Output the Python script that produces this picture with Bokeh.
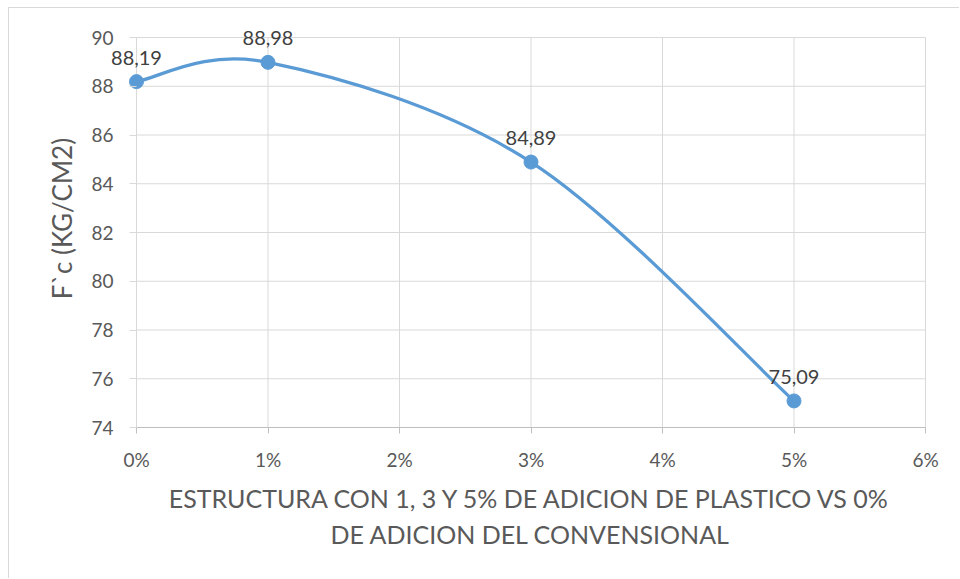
from bokeh.plotting import figure
from bokeh.models import Range1d, FixedTicker, NumeralTickFormatter, ColumnDataSource
from bokeh.core.properties import value
from bokeh.embed import file_html
from bokeh.resources import INLINE

# ---- data ----
adicion = [0.00, 0.01, 0.03, 0.05]          # x values (fraction, shown as %)
fc = [88.19, 88.98, 84.89, 75.09]            # F`c values (kg/cm2)
etiquetas = ["88,19", "88,98", "84,89", "75,09"]
x_ticks = [0.00, 0.01, 0.02, 0.03, 0.04, 0.05, 0.06]
y_ticks = [74, 76, 78, 80, 82, 84, 86, 88, 90]

FONT = "Lato"
GRID = "#d9d9d9"
TXT = "#595959"
BLUE = "#5b9bd5"

# frame is a little larger than the 0-6% / 74-90 plot area so that the data
# labels and markers next to the edges are not clipped
PX_X = 789 / (x_ticks[-1] - x_ticks[0])
PX_Y = 390 / (y_ticks[-1] - y_ticks[0])
x_start = x_ticks[0] - 36 / PX_X
x_end = x_ticks[-1] + 35 / PX_X
y_end = y_ticks[-1] + 28 / PX_Y

p = figure(width=951, height=571, output_backend="svg", toolbar_location=None,
           x_range=Range1d(x_start, x_end), y_range=Range1d(y_ticks[0], y_end),
           min_border_left=91, min_border_right=0, min_border_top=1, min_border_bottom=152)
p.styles = {"margin-left": "8px", "margin-top": "7px",
            "border-top": "1px solid #d9d9d9", "border-left": "1px solid #d9d9d9"}
p.outline_line_color = None
p.background_fill_color = "white"
p.border_fill_color = "white"
p.xgrid.visible = False
p.ygrid.visible = False

# grid lines limited to the plot area
p.segment(x0=x_ticks, y0=[y_ticks[0]] * len(x_ticks), x1=x_ticks, y1=[y_ticks[-1]] * len(x_ticks),
          line_color=GRID, line_width=1)
p.segment(x0=[x_ticks[0]] * len(y_ticks), y0=y_ticks, x1=[x_ticks[-1]] * len(y_ticks), y1=y_ticks,
          line_color=GRID, line_width=1)

# axes
p.xaxis.ticker = FixedTicker(ticks=x_ticks)
p.xaxis.formatter = NumeralTickFormatter(format="0%")
p.xaxis.bounds = (x_ticks[0], x_ticks[-1])
p.yaxis.ticker = FixedTicker(ticks=y_ticks)
for ax in (p.xaxis, p.yaxis):
    ax.minor_tick_line_color = None
    ax.major_label_text_font = FONT
    ax.major_label_text_font_size = "19px"
    ax.major_label_text_color = TXT
    ax.axis_label_text_font = FONT
    ax.axis_label_text_font_style = "normal"
    ax.axis_label_text_color = TXT
p.xaxis.axis_line_color = "#bfbfbf"
p.xaxis.major_tick_line_color = "#bfbfbf"
p.xaxis.major_tick_in = 0
p.xaxis.major_tick_out = 6
p.xaxis.major_label_standoff = 14
# y axis sits at the (wider) frame edge; its ticks are drawn as stubs just left of 0%
p.yaxis.axis_line_color = None
p.yaxis.major_tick_line_color = GRID
p.yaxis.major_tick_out = -29
p.yaxis.major_tick_in = 36
p.yaxis.major_label_standoff = -13

p.yaxis.axis_label = "F`c (KG/CM2)"
p.yaxis.axis_label_text_font_size = "26px"
p.yaxis.axis_label_standoff = 10

p.xaxis.axis_label = ("ESTRUCTURA CON 1, 3 Y 5% DE ADICION DE PLASTICO VS 0%\n"
                      "DE ADICION DEL CONVENSIONAL")
p.xaxis.axis_label_text_font_size = "25px"
p.xaxis.axis_label_text_line_height = 1.23
p.xaxis.axis_label_standoff = 9
p.xaxis.axis_label_text_align = "center"

# smoothed line (Catmull-Rom -> cubic Bezier control points derived from the data)
n = len(adicion)
x0, y0, x1, y1, cx0, cy0, cx1, cy1 = [], [], [], [], [], [], [], []
for i in range(n - 1):
    xa, ya = adicion[i], fc[i]
    xb, yb = adicion[i + 1], fc[i + 1]
    xp, yp = adicion[max(i - 1, 0)], fc[max(i - 1, 0)]
    xn, yn = adicion[min(i + 2, n - 1)], fc[min(i + 2, n - 1)]
    x0.append(xa); y0.append(ya); x1.append(xb); y1.append(yb)
    cx0.append(xa + (xb - xp) / 6.0); cy0.append(ya + (yb - yp) / 6.0)
    cx1.append(xb - (xn - xa) / 6.0); cy1.append(yb - (yn - ya) / 6.0)
p.bezier(x0=x0, y0=y0, x1=x1, y1=y1, cx0=cx0, cy0=cy0, cx1=cx1, cy1=cy1,
         line_color=BLUE, line_width=3.25)

src = ColumnDataSource(data=dict(x=adicion, y=fc, lab=etiquetas))
p.scatter("x", "y", source=src, size=14, fill_color=BLUE, line_color=BLUE)
p.text("x", "y", text="lab", source=src, text_align="center",
       text_baseline="alphabetic", y_offset=-24,
       text_font=value(FONT), text_font_size=value("20px"), text_color="#404040")

open("out.html", "w").write(file_html(p, INLINE))
